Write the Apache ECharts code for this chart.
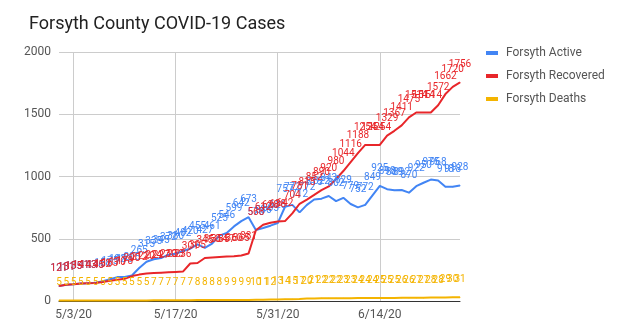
<!DOCTYPE html>
<html>
<head>
<meta charset="utf-8">
<script src="https://cdn.jsdelivr.net/npm/echarts@6/dist/echarts.min.js"></script>
<style>
html,body{margin:0;padding:0;background:#fff;}
#chart{width:619px;height:336px;}
</style>
</head>
<body>
<div id="chart"></div>
<script>
var categories = [
 '5/1/20','5/2/20','5/3/20','5/4/20','5/5/20','5/6/20','5/7/20','5/8/20','5/9/20','5/10/20',
 '5/11/20','5/12/20','5/13/20','5/14/20','5/15/20','5/16/20','5/17/20','5/18/20','5/19/20','5/20/20',
 '5/21/20','5/22/20','5/23/20','5/24/20','5/25/20','5/26/20','5/27/20','5/28/20','5/29/20','5/30/20',
 '5/31/20','6/1/20','6/2/20','6/3/20','6/4/20','6/5/20','6/6/20','6/7/20','6/8/20','6/9/20',
 '6/10/20','6/11/20','6/12/20','6/13/20','6/14/20','6/15/20','6/16/20','6/17/20','6/18/20','6/19/20',
 '6/20/20','6/21/20','6/22/20','6/23/20','6/24/20','6/25/20'
];
var tickLabels = ['5/3/20','5/17/20','5/31/20','6/14/20'];
var active = [121,131,135,141,143,146,158,175,192,193,205,
  265,315,335,345,372,380,402,420,455,427,461,525,546,599,642,673,
  570,586,605,626,757,772,
  712,772,815,822,843,802,829,779,752,772,849,925,898,889,892,870,922,950,975,968,918,918,928];
var recovered = [121,131,135,141,143,145,152,163,170,178,
  200,212,220,224,227,230,233,236,301,305,
  345,350,354,357,360,365,381,
  568,612,628,638,642,704,781,815,852,890,920,980,1044,1116,1188,1254,1254,1254,
  1329,1367,1411,1475,1514,1514,1514,1572,1662,1720,1756];
var deaths = [5,5,5,5,5,5,5,5,5,5,5,5,5,
  7,7,7,7,7,7,
  8,8,8,8,
  9,9,9,9,
  10,11,12,13,14,15,17,
  20,21,22,22,22,23,23,24,24,24,25,25,25,26,26,27,27,28,28,29,30,31];
var seriesNames = ['Forsyth Active','Forsyth Recovered','Forsyth Deaths'];
var colors = ['#4285f4','#e8262a','#f4b400'];

var FONT = 'Roboto, "Noto Sans", sans-serif';
function isTick(idx){ return tickLabels.indexOf(categories[idx]) >= 0; }

function mkSeries(name, data, color){
  return {
    name: name, type: 'line', data: data,
    symbol: 'circle', symbolSize: 1, showSymbol: true, showAllSymbol: true,
    lineStyle: {width: 2, color: color},
    itemStyle: {color: color},
    label: {show: true, position: 'top', distance: 12, color: color,
            fontSize: 10, fontFamily: FONT},
    emphasis: {disabled: true}
  };
}

var chart = echarts.init(document.getElementById('chart'), null, {renderer: 'canvas'});
chart.setOption({
  animation: false,
  color: colors,
  title: {
    text: 'Forsyth County COVID-19 Cases', left: 24, top: 10,
    textStyle: {fontFamily: FONT, fontSize: 18, fontWeight: 'normal', color: '#222'}
  },
  legend: {
    orient: 'vertical', left: 481, top: 42, itemGap: 11,
    itemWidth: 12, itemHeight: 4, icon: 'rect',
    data: seriesNames,
    textStyle: {fontFamily: FONT, fontSize: 12, color: '#555', padding: [0,0,0,3]}
  },
  grid: {left: 59, right: 159, top: 52, bottom: 35, containLabel: false},
  xAxis: {
    type: 'category', data: categories, boundaryGap: false,
    axisLine: {show: true, lineStyle: {color: '#333', width: 1}},
    axisTick: {show: false},
    axisLabel: {interval: function(i){ return isTick(i); }, color: '#555',
                fontFamily: FONT, fontSize: 12, margin: 8},
    splitLine: {show: true, interval: function(i){ return isTick(i); },
                lineStyle: {color: '#cccccc', width: 1}}
  },
  yAxis: {
    type: 'value', min: 0, max: 2000, interval: 500,
    axisLine: {show: false}, axisTick: {show: false},
    axisLabel: {color: '#555', fontFamily: FONT, fontSize: 12, margin: 8,
                formatter: function(v){ return String(v); }},
    splitLine: {lineStyle: {color: '#cccccc', width: 1}}
  },
  series: [
    mkSeries(seriesNames[0], active, colors[0]),
    mkSeries(seriesNames[1], recovered, colors[1]),
    mkSeries(seriesNames[2], deaths, colors[2])
  ]
});
</script>
</body>
</html>
